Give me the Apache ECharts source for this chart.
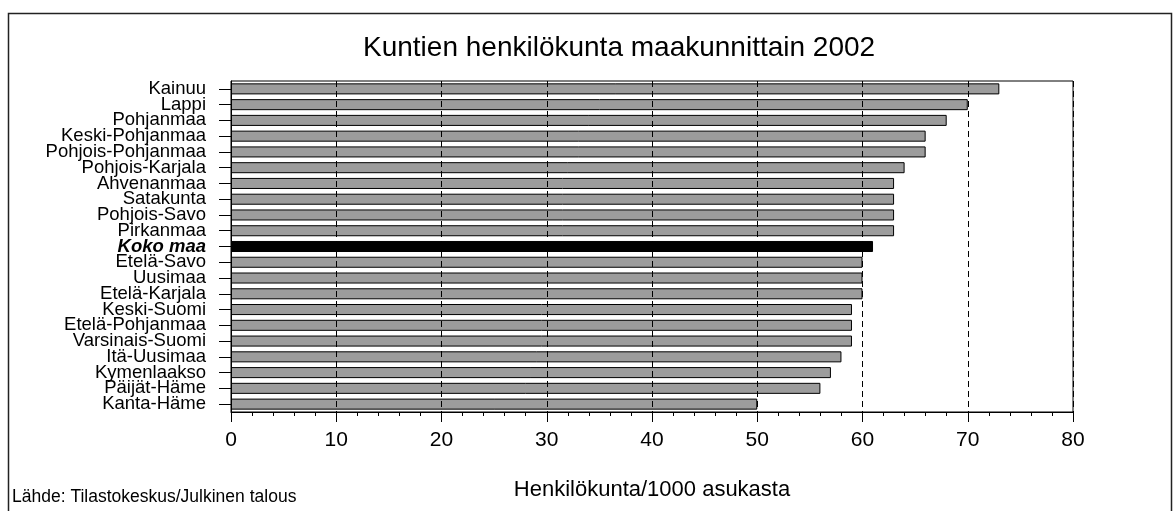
<!DOCTYPE html>
<html>
<head>
<meta charset="utf-8">
<script src="https://cdn.jsdelivr.net/npm/echarts@6/dist/echarts.min.js"></script>
<style>
html,body{margin:0;padding:0;background:#fff;}
#c{width:1173px;height:511px;}
</style>
</head>
<body>
<div id="c"></div>
<script>
const categories = ['Kainuu','Lappi','Pohjanmaa','Keski-Pohjanmaa','Pohjois-Pohjanmaa','Pohjois-Karjala','Ahvenanmaa','Satakunta','Pohjois-Savo','Pirkanmaa','Koko maa','Etelä-Savo','Uusimaa','Etelä-Karjala','Keski-Suomi','Etelä-Pohjanmaa','Varsinais-Suomi','Itä-Uusimaa','Kymenlaakso','Päijät-Häme','Kanta-Häme'];
const values = [73,70,68,66,66,64,63,63,63,63,61,60,60,60,59,59,59,58,57,56,50];
const highlight = 'Koko maa';
const xTicks = [0,10,20,30,40,50,60,70,80];

const FONT = '"Liberation Sans", Arial, sans-serif';
const chart = echarts.init(document.getElementById('c'), null, {renderer:'canvas'});
chart.setOption({
  animation:false,
  backgroundColor:'#fff',
  title:[
    {text:'Kuntien henkilökunta maakunnittain 2002', left:358, top:29,
     textStyle:{fontFamily:FONT, fontSize:28, fontWeight:'normal', color:'#000'}},
    {text:'Lähde: Tilastokeskus/Julkinen talous', left:7, top:483,
     textStyle:{fontFamily:FONT, fontSize:17.5, fontWeight:'normal', color:'#000'}}
  ],
  graphic:[
    {type:'rect', shape:{x:8.5, y:13.5, width:1163, height:520}, style:{fill:'none', stroke:'#222', lineWidth:1.5}, silent:true, z:-10}
  ],
  grid:{left:231, right:100, top:81, bottom:99, show:true, borderColor:'#000', borderWidth:1, backgroundColor:'#fff'},
  xAxis:{
    type:'value', min:0, max:80, interval:10, z:5,
    axisLine:{show:true, lineStyle:{color:'#000', width:1}},
    axisTick:{show:true, length:10, lineStyle:{color:'#000'}},
    minorTick:{show:true, splitNumber:5, length:4, lineStyle:{color:'#000'}},
    splitLine:{show:true, lineStyle:{color:'#000', type:[6,4], width:1}},
    axisLabel:{fontFamily:FONT, fontSize:21, color:'#000', margin:18,
      formatter:function(v){return xTicks.indexOf(v)>=0 ? String(v) : '';}},
    name:'Henkilökunta/1000 asukasta', nameLocation:'middle', nameGap:67,
    nameTextStyle:{fontFamily:FONT, fontSize:22, color:'#000'}
  },
  yAxis:{
    type:'category', data:categories, inverse:true, z:5,
    axisLine:{show:true, lineStyle:{color:'#000', width:1}},
    axisTick:{show:true, alignWithLabel:true, length:12, lineStyle:{color:'#000'}},
    axisLabel:{interval:0, fontFamily:FONT, fontSize:18.5, color:'#000', margin:25, lineHeight:15,
      formatter:function(v){return v===highlight ? '{b|'+v+'}' : v;},
      rich:{b:{fontFamily:FONT, fontSize:18.5, lineHeight:15, fontWeight:'bold', fontStyle:'italic', color:'#000'}}}
  },
  series:[{
    type:'bar', barCategoryGap:'30%',
    data: categories.map(function(c,i){
      return c===highlight
        ? {value:values[i], itemStyle:{color:'#000', borderColor:'#000'}}
        : values[i];
    }),
    itemStyle:{color:'#9c9c9c', borderColor:'#000', borderWidth:1},
    z:2
  }]
});
</script>
</body>
</html>
